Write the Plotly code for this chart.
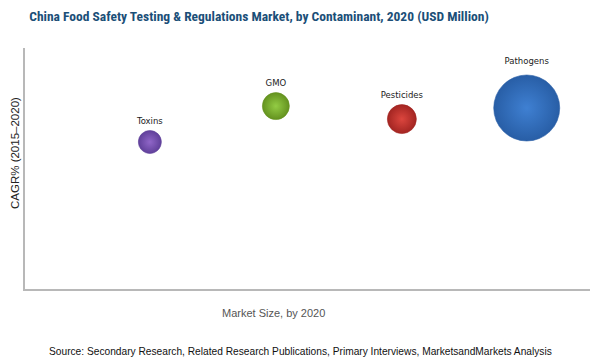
import plotly.graph_objects as go

contaminants = ["Toxins", "GMO", "Pesticides", "Pathogens"]
market_size_pos = [22.1, 44.4, 66.7, 88.8]      # x position (relative market size)
cagr = [61.0, 75.9, 70.5, 75.1]                  # y position (relative CAGR)
bubble_size = [23, 27, 29, 66]                   # relative market size value
colors_main = ["#9066c8", "#93cc44", "#dc463e", "#3f80d2"]
colors_rim = ["#60409a", "#64921f", "#a32522", "#285ea6"]

# the page body has an 8px margin, so the figure is drawn 8px in from the corner
W, H = 592, 353
L, R, T, B = 17, 10, 40, 72
PW, PH = W - L - R, H - T - B


def px(xs, ys):
    """screenshot pixel -> paper coordinates"""
    return ((xs - 8) - L) / PW, (H - (ys - 8) - B) / PH


fig = go.Figure()
for name, x, y, s, cm, cr in zip(contaminants, market_size_pos, cagr, bubble_size, colors_main, colors_rim):
    fig.add_trace(go.Scatter(
        x=[x], y=[y], mode="markers+text", text=[name], textposition="top center",
        textfont=dict(family="DejaVu Sans", size=8.5, color="#222"),
        marker=dict(size=[s], sizemode="diameter", color=cr, opacity=1,
                    gradient=dict(type="radial", color=cm),
                    line=dict(width=0.6, color=cr)),
        showlegend=False, cliponaxis=False,
    ))

ax, ay = px(273, 313)
sx, sy = px(300, 351)
cx, cy = px(15, 153)

fig.update_layout(
    width=W, height=H,
    margin=dict(l=L, r=R, t=T, b=B),
    paper_bgcolor="white", plot_bgcolor="white",
    title=dict(text="<b>China Food Safety Testing & Regulations Market, by Contaminant, 2020 (USD Million)</b>",
               font=dict(family="Roboto Condensed, Noto Sans Condensed", size=13.5, color="#1b4f78"),
               x=(259 - 8) / W, xanchor="center", xref="container",
               y=1 - 8.5 / H, yanchor="middle", yref="container"),
    xaxis=dict(range=[0, 100], showgrid=False, zeroline=False, showticklabels=False, ticks="",
               showline=True, linecolor="#b8b8b8", linewidth=1.5),
    yaxis=dict(range=[0, 100], showgrid=False, zeroline=False, showticklabels=False, ticks="",
               showline=True, linecolor="#b8b8b8", linewidth=1.5),
    annotations=[
        dict(text="Market Size, by 2020", x=ax, y=ay, xref="paper", yref="paper",
             xanchor="center", yanchor="middle",
             showarrow=False, font=dict(family="Liberation Sans", size=11, color="#555")),
        dict(text="Source: Secondary Research, Related Research Publications, Primary Interviews, MarketsandMarkets Analysis",
             x=sx, y=sy, xref="paper", yref="paper", xanchor="center", yanchor="middle",
             showarrow=False, font=dict(family="Liberation Sans", size=10.2, color="#111")),
        dict(text="CAGR% (2015–2020)", x=cx, y=cy, xref="paper", yref="paper",
             xanchor="center", yanchor="middle", textangle=-90, showarrow=False,
             font=dict(family="Liberation Sans", size=11.5, color="#222")),
    ],
)

fig.write_html("out.html")
